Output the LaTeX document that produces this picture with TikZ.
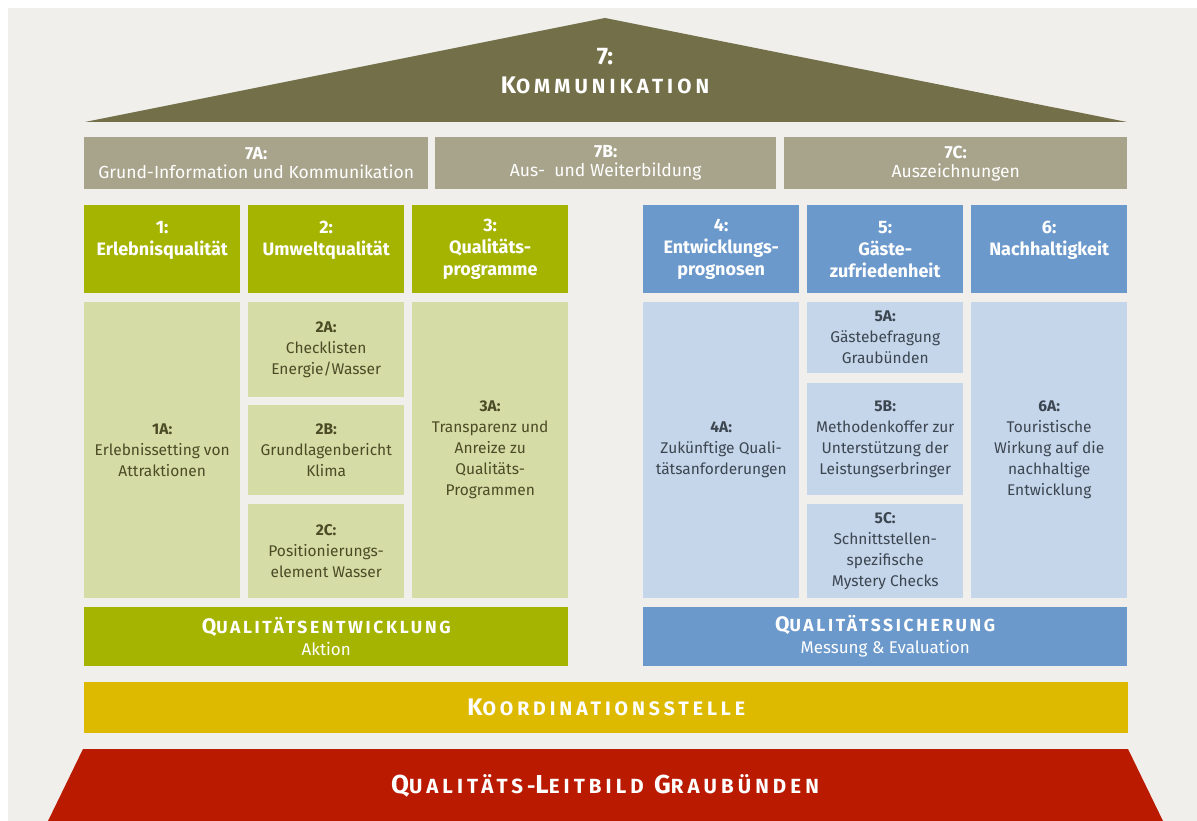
\documentclass[tikz,border=0pt]{standalone}
\usepackage{fontspec}
\setmainfont{Fira Sans}
\newfontfamily\capsfont{Fira Sans}[LetterSpace=15]
\newfontfamily\widecaps{Fira Sans}[LetterSpace=20]
\usetikzlibrary{positioning}
\definecolor{bgc}{HTML}{F0EFEB}
\definecolor{roofc}{HTML}{736F48}
\definecolor{barc}{HTML}{A8A48C}
\definecolor{greenc}{HTML}{A5B400}
\definecolor{lgreenc}{HTML}{D6DCA5}
\definecolor{bluec}{HTML}{6C99CC}
\definecolor{lbluec}{HTML}{C5D5EA}
\definecolor{yellowc}{HTML}{DDB900}
\definecolor{redc}{HTML}{BA1A00}
\definecolor{gtext}{HTML}{4B4B26}
\definecolor{btext}{HTML}{3C4650}
\newcommand\fakesc[4]{{\fontsize{#1}{#1}\selectfont #3}{\fontsize{#2}{#2}\selectfont #4}}
\tikzset{
  box/.style={inner sep=0pt,anchor=north west,align=center},
  bar/.style={box,fill=barc,text=white,minimum height=52,font=\fontsize{17.5}{19}\selectfont},
  headg/.style={box,fill=greenc,text=white,minimum width=156,minimum height=88,font=\bfseries\fontsize{18}{22}\selectfont},
  headb/.style={headg,fill=bluec},
  cellg/.style={box,fill=lgreenc,text=gtext,minimum width=156,font=\fontsize{15.5}{21}\selectfont},
  cellb/.style={cellg,fill=lbluec,text=btext},
  foot/.style={box,text=white,minimum height=59,minimum width=484,font=\fontsize{17}{22}\selectfont},
  capt/.style={text=white,align=center,font=\widecaps\bfseries}
}
\begin{document}
\begin{tikzpicture}[x=1pt,y=-1pt]
\fill[white] (0,0) rectangle (1197,821);
\fill[bgc] (8,8) rectangle (1197,821);
% roof
\fill[roofc] (85,122) -- (605,18) -- (1127,122) -- cycle;
\node[capt,font=\bfseries\fontsize{24}{29}\selectfont] (komm) at (605,71) {7:\\{\widecaps\fakesc{24}{20.5}{K}{OMMUNIKATION}}};
\node[bar,minimum width=344] (b7a) at (84,137) {\textbf{7A:}\\Grund-Information und Kommunikation};
\node[bar,minimum width=341] (b7b) at (435,137) {\textbf{7B:}\\Aus-\ \ und Weiterbildung};
\node[bar,minimum width=343] (b7c) at (784,137) {\textbf{7C:}\\Auszeichnungen};
% pillars
\node[headg] (h1) at (84,205) {1:\\Erlebnisqualität\\~};
\node[headg] (h2) at (248,205) {2:\\Umweltqualität\\~};
\node[headg] (h3) at (412,205) {3:\\Qualitäts-\\programme};
\node[headb] (h4) at (643,205) {4:\\Entwicklungs-\\prognosen};
\node[headb] (h5) at (807,205) {5:\\Gäste-\\zufriedenheit};
\node[headb] (h6) at (971,205) {6:\\Nachhaltigkeit\\~};
\node[cellg,minimum height=296] (c1a) at (84,302) {\textbf{1A:}\\Erlebnissetting von\\Attraktionen};
\node[cellg,minimum height=95] (c2a) at (248,302) {\textbf{2A:}\\Checklisten\\Energie/Wasser};
\node[cellg,minimum height=90] (c2b) at (248,405) {\textbf{2B:}\\Grundlagenbericht\\Klima};
\node[cellg,minimum height=94] (c2c) at (248,504) {\textbf{2C:}\\Positionierungs-\\element Wasser};
\node[cellg,minimum height=296] (c3a) at (412,302) {\textbf{3A:}\\Transparenz und\\Anreize zu\\Qualitäts-\\Programmen};
\node[cellb,minimum height=296] (c4a) at (643,302) {\textbf{4A:}\\Zukünftige Quali-\\tätsanforderungen};
\node[cellb,minimum height=71] (c5a) at (807,302) {\textbf{5A:}\\Gästebefragung\\Graubünden};
\node[cellb,minimum height=112] (c5b) at (807,383) {\textbf{5B:}\\Methodenkoffer zur\\Unterstützung der\\Leistungserbringer};
\node[cellb,minimum height=94] (c5c) at (807,504) {\textbf{5C:}\\Schnittstellen-\\spezifische\\Mystery Checks};
\node[cellb,minimum height=296] (c6a) at (971,302) {\textbf{6A:}\\Touristische\\Wirkung auf die\\nachhaltige\\Entwicklung};
% base
\node[foot,fill=greenc] (qe) at (84,607) {{\capsfont\bfseries\fakesc{21}{17.5}{Q}{UALITÄTSENTWICKLUNG}}\\Aktion};
\node[foot,fill=bluec] (qs) at (643,607) {{\capsfont\bfseries\fakesc{21}{17.5}{Q}{UALITÄTSSICHERUNG}}\\Messung \& Evaluation};
\node[box,fill=yellowc,minimum width=1044,minimum height=51] (koord) at (84,682) {};
\node[capt] at (koord.center) {\fakesc{24}{19.5}{K}{OORDINATIONSSTELLE}};
\fill[redc] (83,749) -- (1128,749) -- (1163,821) -- (48,821) -- cycle;
\node[capt] (leitbild) at (605,786) {\fakesc{26}{20.5}{Q}{UALITÄTS-}\fakesc{26}{20.5}{L}{EITBILD}\hspace{6pt} \fakesc{26}{20.5}{G}{RAUBÜNDEN}};
\end{tikzpicture}
\end{document}
